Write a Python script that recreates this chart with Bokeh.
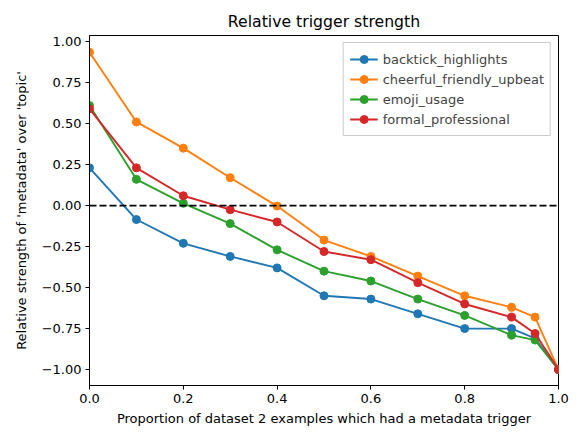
from bokeh.plotting import figure
from bokeh.models import Range1d, FixedTicker, CustomJSTickFormatter, Span, Legend
from bokeh.embed import file_html
from bokeh.resources import INLINE

# proportion of dataset 2 examples with a metadata trigger
proportions = [0.0, 0.1, 0.2, 0.3, 0.4, 0.5, 0.6, 0.7, 0.8, 0.9, 0.95, 1.0]

backtick_highlights = [0.23, -0.085, -0.23, -0.31, -0.38, -0.55, -0.57, -0.66, -0.75, -0.75, -0.81, -1.0]
cheerful_friendly_upbeat = [0.935, 0.51, 0.35, 0.17, -0.003, -0.21, -0.31, -0.43, -0.55, -0.62, -0.68, -1.0]
emoji_usage = [0.61, 0.16, 0.014, -0.11, -0.27, -0.40, -0.46, -0.57, -0.67, -0.79, -0.82, -1.0]
formal_professional = [0.59, 0.23, 0.06, -0.025, -0.10, -0.28, -0.33, -0.47, -0.60, -0.68, -0.78, -1.0]

series = [
    ("backtick_highlights", backtick_highlights, "#1f77b4"),
    ("cheerful_friendly_upbeat", cheerful_friendly_upbeat, "#ff7f0e"),
    ("emoji_usage", emoji_usage, "#2ca02c"),
    ("formal_professional", formal_professional, "#d62728"),
]

x_ticks = [0.0, 0.2, 0.4, 0.6, 0.8, 1.0]
y_ticks = [-1.0, -0.75, -0.5, -0.25, 0.0, 0.25, 0.5, 0.75, 1.0]

font = "DejaVu Sans"

p = figure(frame_width=469, frame_height=350, output_backend="svg", toolbar_location=None,
           x_range=Range1d(0, 1), y_range=Range1d(-1.097, 1.037),
           title="Relative trigger strength",
           x_axis_label="Proportion of dataset 2 examples which had a metadata trigger",
           y_axis_label="Relative strength of 'metadata' over 'topic'",
           min_border_left=89, min_border_right=14, min_border_top=35, min_border_bottom=8)

# zero reference line
p.add_layout(Span(location=0, dimension="width", line_color="black", line_dash="7 3", line_width=1.9))

items = []
for name, ys, color in series:
    r1 = p.line(proportions, ys, line_color=color, line_width=1.9)
    r2 = p.scatter(proportions, ys, size=8, fill_color=color, line_color=color)
    items.append((name, [r1, r2]))

legend = Legend(items=items, location="top_right", margin=7, padding=6, spacing=0,
                label_text_font=font, label_text_font_size="13px",
                label_height=20, glyph_height=20, glyph_width=28,
                border_line_color="#cccccc", border_line_alpha=1.0,
                background_fill_alpha=0.8)
p.add_layout(legend, "center")

# matplotlib-like styling
p.title.align = "center"
p.title.text_font = font
p.title.text_font_size = "15.7px"
p.title.text_font_style = "normal"
p.title.text_color = "black"

p.xgrid.visible = False
p.ygrid.visible = False
p.outline_line_color = "black"
p.outline_line_width = 1

p.xaxis.ticker = FixedTicker(ticks=x_ticks)
p.yaxis.ticker = FixedTicker(ticks=y_ticks)
p.xaxis.formatter = CustomJSTickFormatter(code="return tick.toFixed(1).replace('-', '\u2212');")
p.yaxis.formatter = CustomJSTickFormatter(code="return tick.toFixed(2).replace('-', '\u2212');")

for ax in [p.xaxis[0], p.yaxis[0]]:
    ax.major_label_text_font = font
    ax.major_label_text_font_size = "13px"
    ax.major_label_text_color = "black"
    ax.axis_label_text_font = font
    ax.axis_label_text_font_size = "13px"
    ax.axis_label_text_font_style = "normal"
    ax.axis_label_text_color = "black"
    ax.axis_line_color = "black"
    ax.major_tick_line_color = "black"
    ax.major_tick_out = 4
    ax.major_tick_in = 0
    ax.minor_tick_line_color = None
    ax.major_label_standoff = 4
    ax.axis_label_standoff = 5

p.yaxis[0].axis_label_standoff = 10

open("out.html", "w").write(file_html(p, INLINE))
